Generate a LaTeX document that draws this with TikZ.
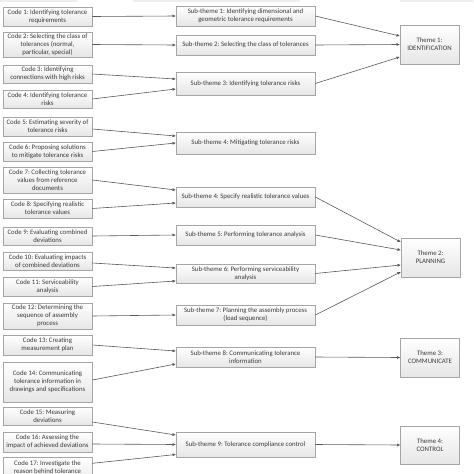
\documentclass[tikz,border=0pt]{standalone}
\usepackage{fontspec}
\setmainfont{Carlito}
\usetikzlibrary{arrows.meta,calc}
\definecolor{boxline}{HTML}{A6A6A6}
\definecolor{boxfill}{HTML}{E6E6E6}
\definecolor{txt}{HTML}{3A3A3A}
\definecolor{conn}{HTML}{595959}
\frenchspacing
\tikzset{
  basebox/.style={draw=boxline, line width=0.6pt, top color=white, bottom color=boxfill,
    inner sep=0.5pt, align=center, text=txt, font=\fontsize{6.8}{8}\selectfont},
  codebox/.style={basebox, minimum width=89pt},
  subbox/.style={basebox, minimum width=139pt},
  themebox/.style={basebox, minimum width=59pt},
  conarrow/.style={draw=conn, line width=0.6pt, -{Triangle[length=3.2pt,width=2.6pt]}},
}
\begin{document}
\begin{tikzpicture}[x=1pt,y=-1pt]
\useasboundingbox (0,0) rectangle (474,474);
\begin{scope}
\clip (0,0) rectangle (474,474);
% cut-off boxes at the very top
\fill[boxfill!70] (0,-5) rectangle (77,2);
\fill[boxfill!70] (133,-5) rectangle (300,2);
\fill[boxfill!70] (400,-5) rectangle (473,2);

% codes
\node[codebox, minimum height=19pt] (c1) at (47.5,16.5) {Code 1: Identifying tolerance\\requirements};
\node[codebox, minimum height=25pt] (c2) at (47.5,44.5) {Code 2: Selecting the class of\\tolerances (normal,\\particular, special)};
\node[codebox, minimum height=18pt] (c3) at (47.5,74) {Code 3: Identifying\\connections with high risks};
\node[codebox, minimum height=18pt] (c4) at (47.5,99) {Code 4: Identifying tolerance\\risks};
\node[codebox, minimum height=19pt] (c5) at (47.5,126.5) {Code 5: Estimating severity of\\tolerance risks};
\node[codebox, minimum height=19pt] (c6) at (47.5,151.5) {Code 6: Proposing solutions\\to mitigate tolerance risks};
\node[codebox, minimum height=26pt] (c7) at (47.5,180) {Code 7: Collecting tolerance\\values from reference\\documents};
\node[codebox, minimum height=19pt] (c8) at (47.5,208.5) {Code 8: Specifying realistic\\tolerance values};
\node[codebox, minimum height=18pt] (c9) at (47.5,236) {Code 9: Evaluating combined\\deviations};
\node[codebox, minimum height=18pt] (c10) at (47.5,261) {Code 10: Evaluating impacts\\of combined deviations};
\node[codebox, minimum height=19pt] (c11) at (47.5,286.5) {Code 11: Serviceability\\analysis};
\node[codebox, minimum height=26pt] (c12) at (47.5,316) {Code 12: Determining the\\sequence of assembly\\process};
\node[codebox, minimum height=20pt] (c13) at (47.5,345) {Code 13: Creating\\measurement plan};
\node[codebox, minimum height=40pt] (c14) at (47.5,382) {Code 14: Communicating\\tolerance information in\\drawings and specifications};
\node[codebox, minimum height=18pt] (c15) at (47.5,416) {Code 15: Measuring\\deviations};
\node[codebox, minimum height=20pt] (c16) at (47.5,442) {Code 16: Assessing the\\impact of achieved deviations};
\node[codebox, minimum height=30pt, anchor=north, inner ysep=2pt] (c17) at (47.5,457) {Code 17: Investigate the\\reason behind tolerance\\\strut};

% sub-themes
\node[subbox, minimum height=20pt] (s1) at (245.5,16) {Sub-theme 1: Identifying dimensional and\\geometric tolerance requirements};
\node[subbox, minimum height=20pt] (s2) at (245.5,45) {Sub-theme 2: Selecting the class of tolerances};
\node[subbox, minimum height=23pt] (s3) at (245.5,83.5) {Sub-theme 3: Identifying tolerance risks};
\node[subbox, minimum height=22pt] (s4a) at (245.5,143) {Sub-theme 4: Mitigating tolerance risks};
\node[subbox, minimum height=20pt] (s4b) at (245.5,197) {Sub-theme 4: Specify realistic tolerance values};
\node[subbox, minimum height=20pt] (s5) at (245.5,235) {Sub-theme 5: Performing tolerance analysis};
\node[subbox, minimum height=19pt] (s6) at (245.5,273.5) {Sub-theme 6: Performing serviceability\\analysis};
\node[subbox, minimum height=20pt] (s7) at (245.5,315) {Sub-theme 7: Planning the assembly process\\(load sequence)};
\node[subbox, minimum height=20pt] (s8) at (245.5,357) {Sub-theme 8: Communicating tolerance\\information};
\node[subbox, minimum height=25pt] (s9) at (245.5,444.5) {Sub-theme 9: Tolerance compliance control};

% themes
\node[themebox, minimum height=39pt] (t1) at (429.5,44.5) {Theme 1:\\IDENTIFICATION};
\node[themebox, minimum height=39pt] (t2) at (430.5,257.5) {Theme 2:\\PLANNING};
\node[themebox, minimum height=39pt] (t3) at (430,357.5) {Theme 3:\\COMMUNICATE};
\node[themebox, minimum height=38pt] (t4) at (430,445) {Theme 4:\\CONTROL};

% code -> sub-theme
\draw[conarrow] (c1.east) -- (s1.west);
\draw[conarrow] (c2.east) -- (s2.west);
\draw[conarrow] (c3.east) -- ([yshift=4.5pt]s3.west);
\draw[conarrow] (c4.east) -- ([yshift=-5.5pt]s3.west);
\draw[conarrow] ([yshift=-2.5pt]c5.east) -- ([yshift=7pt]s4a.west);
\draw[conarrow] (c6.east) -- (s4a.west);
\draw[conarrow] (c7.east) -- ([yshift=7pt]s4b.west);
\draw[conarrow] (c8.east) -- ([yshift=-6pt]s4b.west);
\draw[conarrow] (c9.east) -- (s5.west);
\draw[conarrow] ([yshift=-2pt]c10.east) -- ([yshift=5.5pt]s6.west);
\draw[conarrow] (c11.east) -- ([yshift=-7.5pt]s6.west);
\draw[conarrow] (c12.east) -- (s7.west);
\draw[conarrow] (c13.east) -- ([yshift=6pt]s8.west);
\draw[conarrow] ([yshift=2pt]c14.east) -- ([yshift=-7pt]s8.west);
\draw[conarrow] ([yshift=-6pt]c15.east) -- ([yshift=9.5pt]s9.west);
\draw[conarrow] ([yshift=-2pt]c16.east) -- (s9.west);
\draw[conarrow] ([yshift=9pt]c17.east) -- ([yshift=-10pt]s9.west);

% sub-theme -> theme
\draw[conarrow] (s1.east) -- ([yshift=8.5pt]t1.west);
\draw[conarrow] (s2.east) -- (t1.west);
\draw[conarrow] (s3.east) -- ([yshift=-12.5pt]t1.west);
\draw[conarrow] (s4b.east) -- ([yshift=15.5pt]t2.west);
\draw[conarrow] (s5.east) -- ([yshift=7.5pt]t2.west);
\draw[conarrow] (s6.east) -- ([yshift=-7.5pt]t2.west);
\draw[conarrow] (s7.east) -- ([yshift=-14.5pt]t2.west);
\draw[conarrow] (s8.east) -- (t3.west);
\draw[conarrow] (s9.east) -- (t4.west);
\end{scope}
\end{tikzpicture}
\end{document}
